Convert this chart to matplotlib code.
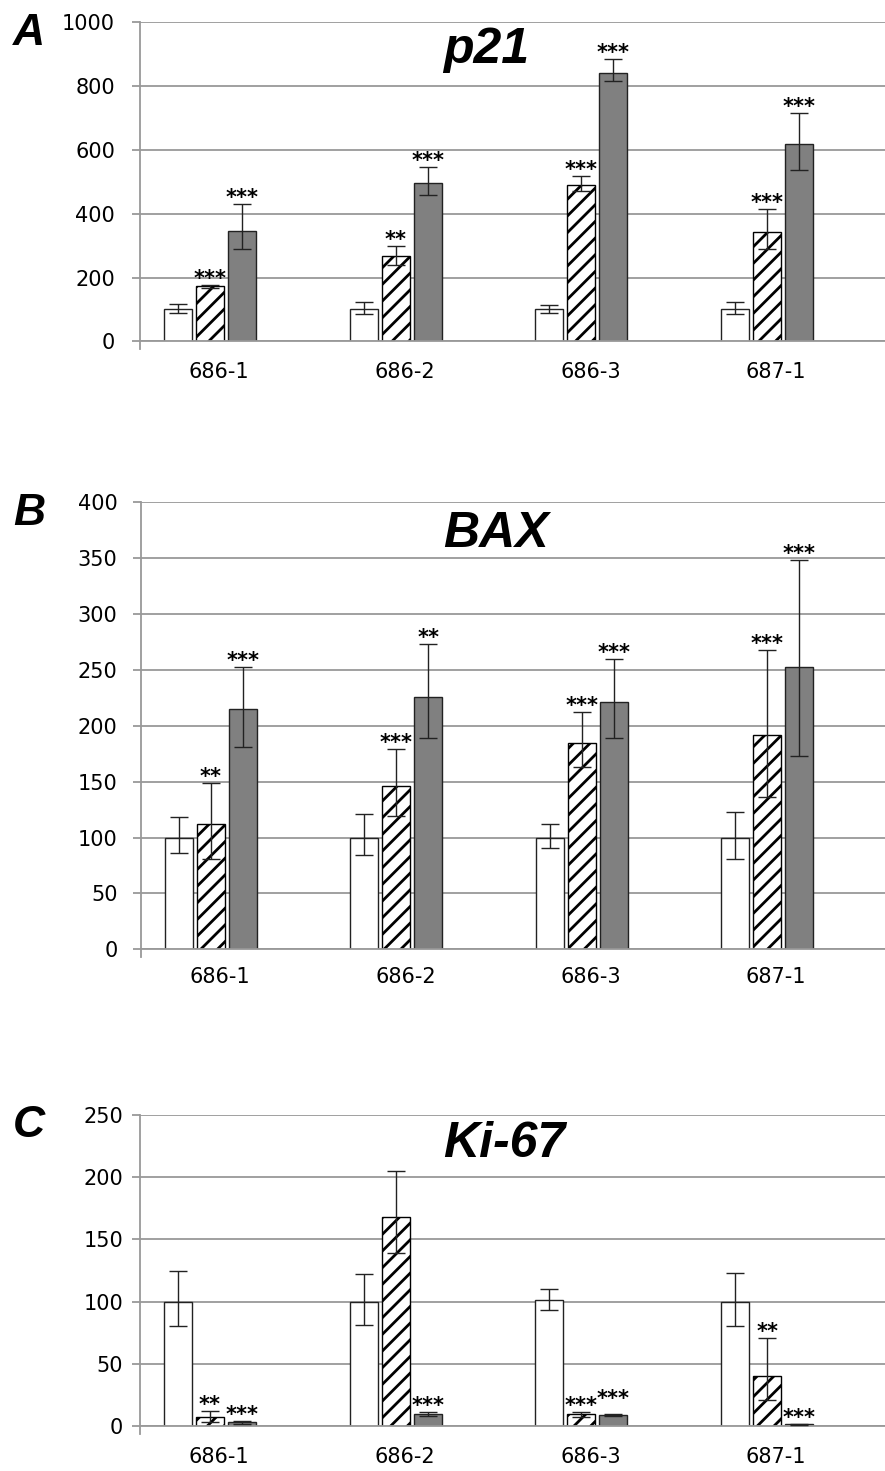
import numpy as np
import matplotlib.pyplot as plt
from matplotlib.transforms import ScaledTranslation

plt.rcParams['font.family'] = ['DejaVu Sans']
plt.rcParams['hatch.linewidth'] = 2.0

groups = ["686-1", "686-2", "686-3", "687-1"]

# panel A - p21
p21_ctrl = [102, 102, 102, 102]
p21_ctrl_up = [14, 22, 11, 21]
p21_ctrl_dn = [14, 16, 14, 16]
p21_hatch = [172, 266, 489, 343]
p21_hatch_up = [4, 34, 30, 73]
p21_hatch_dn = [4, 27, 17, 54]
p21_gray = [347, 496, 842, 619]
p21_gray_up = [84, 50, 43, 96]
p21_gray_dn = [59, 38, 25, 81]
p21_hatch_stars = ["***", "**", "***", "***"]
p21_gray_stars = ["***", "***", "***", "***"]

# panel B - BAX
bax_ctrl = [100, 100, 100, 100]
bax_ctrl_up = [18, 21, 12, 23]
bax_ctrl_dn = [14, 16, 9, 19]
bax_hatch = [112, 146, 185, 192]
bax_hatch_up = [37, 33, 27, 76]
bax_hatch_dn = [31, 27, 22, 56]
bax_gray = [215, 226, 221, 253]
bax_gray_up = [38, 47, 39, 95]
bax_gray_dn = [34, 37, 32, 80]
bax_hatch_stars = ["**", "***", "***", "***"]
bax_gray_stars = ["***", "**", "***", "***"]

# panel C - Ki-67
ki_ctrl = [100, 100, 101, 100]
ki_ctrl_up = [25, 22, 9, 23]
ki_ctrl_dn = [20, 19, 8, 20]
ki_hatch = [7, 168, 9.6, 40]
ki_hatch_up = [5, 37, 2, 31]
ki_hatch_dn = [3.5, 29, 2, 19]
ki_gray = [3, 9.4, 9, 1.5]
ki_gray_up = [1, 1.5, 1, 0.5]
ki_gray_dn = [1, 1.5, 1, 0.5]
ki_hatch_stars = ["**", "", "***", "**"]
ki_gray_stars = ["***", "***", "***", "***"]

GRID = '#999999'
W, H = 885, 1471

fig = plt.figure(figsize=(W / 100, H / 100), dpi=100)


def draw_panel(rect, series, ymax, ystep, title, letter, title_base, letter_base,
               ypad, xpad, lift=None):
    ax = fig.add_axes(rect)
    x = np.arange(len(groups))
    pitch, width = 0.1723, 0.151
    styles = [dict(color='white', edgecolor='#222222'),
              dict(color='white', edgecolor='black', hatch='//'),
              dict(color='#808080', edgecolor='#222222')]
    for k, (vals, up, dn, stars) in enumerate(series):
        xs = x + (k - 1) * pitch
        ax.bar(xs, vals, width, linewidth=1.0, zorder=2, **styles[k])
        ax.errorbar(xs, vals, yerr=[dn, up], fmt='none', ecolor='#222222',
                    elinewidth=1.0, capsize=6.5, capthick=1.0, zorder=3)
        if stars is None:
            continue
        for i, s in enumerate(stars):
            if not s:
                continue
            dy = (lift or {}).get((k, i), 0)
            ax.annotate(s, (xs[i], vals[i] + up[i]), xytext=(0, 0 + dy),
                        textcoords='offset points', ha='center', va='baseline',
                        fontsize=15, fontweight='bold', zorder=4)
    ax.set_xlim(-0.377, 3.635)
    ax.set_ylim(0, ymax)
    ax.set_yticks(np.arange(0, ymax + 1, ystep))
    ax.yaxis.grid(True, color=GRID, linewidth=1.3, zorder=0)
    ax.set_axisbelow(True)
    for side in ['top', 'right']:
        ax.spines[side].set_visible(False)
    for side in ['left', 'bottom']:
        ax.spines[side].set_color(GRID)
        ax.spines[side].set_linewidth(1.3)
    ax.tick_params(axis='y', length=6, width=1.3, color=GRID, labelsize=15, pad=ypad)
    ax.tick_params(axis='x', length=0, labelsize=15, pad=xpad)
    ax.set_xticks(x)
    ax.set_xticklabels(groups)
    shift = ScaledTranslation(9 / 100, 0, fig.dpi_scale_trans)
    for lab in ax.get_xticklabels():
        lab.set_transform(lab.get_transform() + shift)
    # small boundary tick below the left end of the category axis
    hpx = rect[3] * H
    ax.plot([0, 0], [0, -8 / hpx], transform=ax.transAxes, color=GRID,
            linewidth=1.3, clip_on=False)
    fig.text(443 / W, 1 - title_base / H, title, fontsize=36, fontweight='bold',
             fontstyle='italic', family='Liberation Sans', ha='left', va='baseline')
    fig.text(13 / W, 1 - letter_base / H, letter, fontsize=32, fontweight='bold',
             fontstyle='italic', family='Liberation Sans', ha='left', va='baseline')
    return ax


draw_panel([140 / W, 1 - 341.3 / H, (W - 140) / W, 319 / H],
           [(p21_ctrl, p21_ctrl_up, p21_ctrl_dn, None),
            (p21_hatch, p21_hatch_up, p21_hatch_dn, p21_hatch_stars),
            (p21_gray, p21_gray_up, p21_gray_dn, p21_gray_stars)],
           1000, 200, 'p21', 'A', 63, 45, ypad=12, xpad=15)

draw_panel([141 / W, 1 - 949.3 / H, (W - 141) / W, 447 / H],
           [(bax_ctrl, bax_ctrl_up, bax_ctrl_dn, None),
            (bax_hatch, bax_hatch_up, bax_hatch_dn, bax_hatch_stars),
            (bax_gray, bax_gray_up, bax_gray_dn, bax_gray_stars)],
           400, 50, 'BAX', 'B', 547, 525, ypad=11, xpad=13)

draw_panel([140 / W, 1 - 1426 / H, (W - 140) / W, 311 / H],
           [(ki_ctrl, ki_ctrl_up, ki_ctrl_dn, None),
            (ki_hatch, ki_hatch_up, ki_hatch_dn, ki_hatch_stars),
            (ki_gray, ki_gray_up, ki_gray_dn, ki_gray_stars)],
           250, 50, 'Ki-67', 'C', 1157, 1137, ypad=6, xpad=15,
           lift={(2, 2): 6})

fig.savefig('out.png', dpi=100)
